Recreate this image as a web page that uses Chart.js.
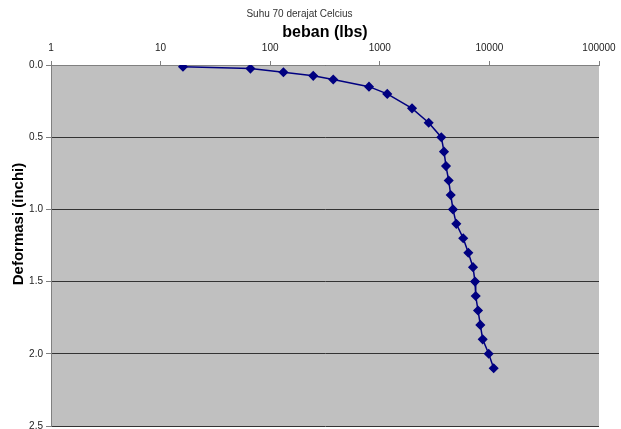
<!DOCTYPE html>
<html>
<head>
<meta charset="utf-8">
<script src="https://cdn.jsdelivr.net/npm/chart.js@4.4.0/dist/chart.umd.min.js"></script>
<style>
  html, body { margin: 0; padding: 0; background: #fff; overflow: hidden; }
  #wrap { width: 621px; height: 429px; }
</style>
</head>
<body>
<div id="wrap"><canvas id="myChart" width="621" height="429"></canvas></div>
<script>
// beban (lbs) vs deformasi (inchi)
var beban = [16, 66, 132, 247, 376, 797, 1170, 1968, 2793, 3640, 3855, 4018, 4253,
             4436, 4655, 4989, 5768, 6423, 7086, 7391, 7501, 7874, 8263, 8686, 9853, 10941];
var deformasi = [0.0125, 0.025, 0.05, 0.075, 0.1, 0.15, 0.2, 0.3, 0.4, 0.5, 0.6, 0.7, 0.8,
                 0.9, 1.0, 1.1, 1.2, 1.3, 1.4, 1.5, 1.6, 1.7, 1.8, 1.9, 2.0, 2.1];
var xTicks = [1, 10, 100, 1000, 10000, 100000];
var yTicks = [0, 0.5, 1.0, 1.5, 2.0, 2.5];

var points = [];
for (var i = 0; i < beban.length; i++) {
    points.push({ x: beban[i], y: deformasi[i] });
}

// gray plot area like the excel one
var plotBg = {
    id: 'plotBg',
    beforeDraw: function (chart) {
        var a = chart.chartArea, ctx = chart.ctx;
        ctx.save();
        ctx.fillStyle = '#C0C0C0';
        ctx.fillRect(a.left, a.top, a.right - a.left, a.bottom - a.top);
        ctx.restore();
    }
};

// y title sits a bit above the middle in the reference
var yTitle = {
    id: 'yTitle',
    afterDraw: function (chart) {
        var ctx = chart.ctx;
        ctx.save();
        ctx.translate(19, 224);
        ctx.rotate(-Math.PI / 2);
        ctx.font = 'bold 15px "Liberation Sans", Arial, sans-serif';
        ctx.fillStyle = '#000';
        ctx.textAlign = 'center';
        ctx.textBaseline = 'middle';
        ctx.fillText('Deformasi (inchi)', 0, 0);
        ctx.restore();
    }
};

var ctx = document.getElementById('myChart').getContext('2d');
var myChart = new Chart(ctx, {
    type: 'line',
    data: {
        datasets: [{
            data: points,
            borderColor: '#000080',
            backgroundColor: '#000080',
            borderWidth: 1.5,
            pointStyle: 'rectRot',
            pointRadius: 4,
            pointHoverRadius: 4,
            tension: 0
        }]
    },
    options: {
        responsive: false,
        animation: false,
        events: [],
        layout: { autoPadding: false, padding: { left: 0, right: 22, top: 0, bottom: 3 } },
        plugins: {
            legend: { display: false },
            tooltip: { enabled: false },
            title: {
                display: true,
                text: 'Suhu 70 derajat Celcius',
                color: '#333',
                font: { family: '"Liberation Sans", Arial, sans-serif', size: 10, weight: 'normal' },
                padding: { top: 8, bottom: 0 }
            }
        },
        scales: {
            x: {
                type: 'logarithmic',
                position: 'top',
                min: 1,
                max: 100000,
                afterBuildTicks: function (scale) {
                    scale.ticks = xTicks.map(function (v) { return { value: v }; });
                },
                afterFit: function (scale) {
                    scale.height = 45;
                    scale.paddingLeft = 0;
                    scale.paddingRight = 0;
                },
                ticks: {
                    color: '#222',
                    font: { family: '"Liberation Sans", Arial, sans-serif', size: 10 },
                    padding: 7,
                    maxRotation: 0,
                    autoSkip: false,
                    callback: function (v) { return String(v); }
                },
                grid: { drawOnChartArea: false, drawTicks: true, tickLength: 4, color: '#808080' },
                border: { color: '#808080' },
                title: {
                    display: true,
                    text: 'beban (lbs)',
                    color: '#000',
                    font: { family: '"Liberation Sans", Arial, sans-serif', size: 16, weight: 'bold' },
                    padding: { top: 3, bottom: 0 }
                }
            },
            y: {
                type: 'linear',
                reverse: true,
                min: 0,
                max: 2.5,
                afterBuildTicks: function (scale) {
                    scale.ticks = yTicks.map(function (v) { return { value: v }; });
                },
                afterFit: function (scale) {
                    scale.width = 51;
                    scale.paddingTop = 0;
                    scale.paddingBottom = 0;
                },
                ticks: {
                    color: '#222',
                    font: { family: '"Liberation Sans", Arial, sans-serif', size: 10 },
                    padding: 3,
                    callback: function (v) { return Number(v).toFixed(1); }
                },
                grid: { color: '#333', tickLength: 5, tickColor: '#808080' },
                border: { color: '#808080' }
            }
        }
    },
    plugins: [plotBg, yTitle]
});
</script>
</body>
</html>
